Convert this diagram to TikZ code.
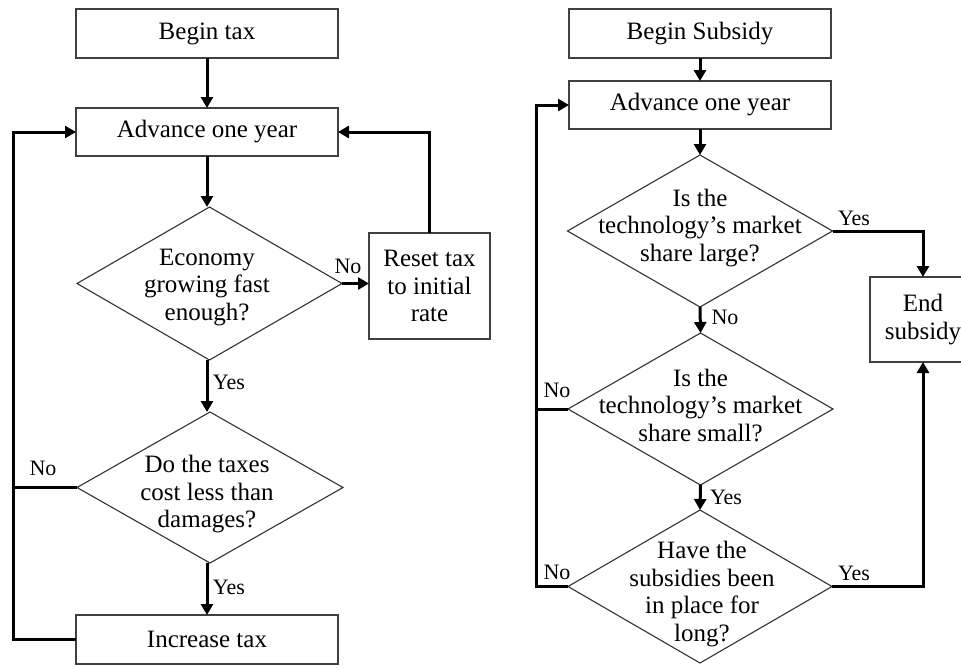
\documentclass[tikz,border=0pt]{standalone}
\usepackage{fontspec}
\setmainfont{Liberation Serif}
\usetikzlibrary{shapes.geometric,arrows.meta}
\begin{document}
\begin{tikzpicture}[x=1pt,y=-1pt,
  box/.style={draw=black!75,line width=1.3pt,rectangle,inner sep=0pt,outer sep=0pt,
    font=\fontsize{25}{27.5}\selectfont,align=center},
  dia/.style={draw=black!80,line width=1.1pt,diamond,inner sep=0pt,outer sep=0pt},
  dtext/.style={font=\fontsize{25}{27.5}\selectfont,align=center,inner sep=0pt},
  lab/.style={font=\fontsize{22}{24}\selectfont,inner sep=0pt},
  arr/.style={line width=3pt,-{Triangle[length=11pt,width=12pt]}},
  ln/.style={line width=3pt}]
\useasboundingbox (0,0) rectangle (961,667);
\fill[white] (0,0) rectangle (961,667);
% ---------- left chart ----------
\node[box,minimum width=262pt,minimum height=49pt] (bt) at (207,33.5) {Begin tax};
\node[box,minimum width=262pt,minimum height=48pt] (a1) at (207,132) {Advance one year};
\node[dia,minimum width=265pt,minimum height=153pt] (d1) at (209.5,283.5) {};
\node[dtext] (d1t) at (207,287.5) {Economy\\growing fast\\enough?};
\node[box,minimum width=121pt,minimum height=106pt] (rs) at (429.5,286) {Reset tax\\to initial\\rate};
\node[dia,minimum width=266pt,minimum height=151pt] (d2) at (210,487.5) {};
\node[dtext] (d2t) at (207,494.5) {Do the taxes\\cost less than\\damages?};
\node[box,minimum width=262pt,minimum height=49pt] (it) at (207,639.5) {Increase tax};
\coordinate (L) at (13,0);

\draw[arr] (bt.south) -- (a1.north);
\draw[arr] (a1.south) -- (a1.south |- d1.north);
\draw[arr] (d1.east) -- (rs.west |- d1.east);
\draw[arr] (rs.north) |- (a1.east);
\draw[arr] (d1.south -| a1.south) -- (a1.south |- d2.north);
\draw[arr] (d2.south -| a1.south) -- (it.north);
\draw[arr] (it.west) -- (it.west -| L) |- (a1.west);
\draw[ln] (d2.west) -- (d2.west -| L);

\node[lab] (n1) at (348,266) {No};
\node[lab] (y1) at (229,382) {Yes};
\node[lab] (n2) at (43,468) {No};
\node[lab] (y2) at (229,587) {Yes};

% ---------- right chart ----------
\node[box,minimum width=262pt,minimum height=49pt] (bs) at (700,33.5) {Begin Subsidy};
\node[box,minimum width=262pt,minimum height=48pt] (a2) at (700,105) {Advance one year};
\node[dia,minimum width=265pt,minimum height=152pt] (d3) at (700,231) {};
\node[dtext] (d3t) at (700,228) {Is the\\technology’s market\\share large?};
\node[dia,minimum width=265pt,minimum height=152pt] (d4) at (700.5,409) {};
\node[dtext] (d4t) at (700.5,405) {Is the\\technology’s market\\share small?};
\node[dia,minimum width=264pt,minimum height=153pt] (d5) at (700,586.5) {};
\node[dtext] (d5t) at (702,594) {Have the\\subsidies been\\in place for\\long?};
\node[box,minimum width=106pt,minimum height=85pt] (es) at (923,319.5) {End\\subsidy};
\coordinate (R) at (536,0);

\draw[arr] (bs.south) -- (a2.north);
\draw[arr] (a2.south) -- (d3.north);
\draw[arr] (d3.east) -| (es.north);
\draw[arr] (d3.south) -- (d4.north);
\draw[arr] (d4.south) -- (d5.north);
\draw[arr] (d5.east) -| (es.south);
\draw[arr] (d5.west) -- (d5.west -| R) |- (a2.west);
\draw[ln] (d4.west) -- (d4.west -| R);

\node[lab] (y3) at (854,218) {Yes};
\node[lab] (n3) at (725,317) {No};
\node[lab] (n4) at (557,390) {No};
\node[lab] (y4) at (726,497) {Yes};
\node[lab] (n5) at (557,572) {No};
\node[lab] (y5) at (854,573) {Yes};
\end{tikzpicture}
\end{document}
